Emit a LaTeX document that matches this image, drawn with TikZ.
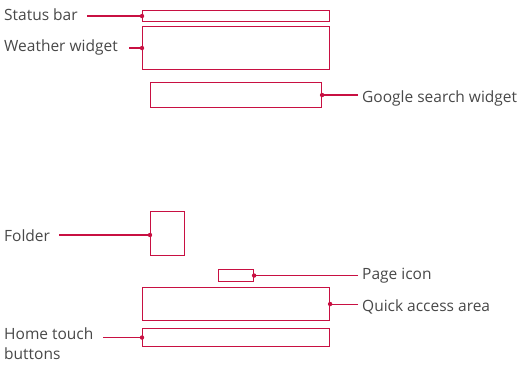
\documentclass[tikz,border=0pt]{standalone}
\usepackage{fontspec}
\setmainfont{Open Sans}
\usetikzlibrary{positioning}

\definecolor{lgred}{RGB}{200,16,66}
\definecolor{lggray}{RGB}{72,72,72}

\begin{document}
\begin{tikzpicture}[x=1pt,y=-1pt,
  panel/.style={draw=lgred,line width=1.1pt,inner sep=0pt,anchor=north west},
  lbl/.style={text=lggray,inner sep=0pt,anchor=west,
    font=\fontsize{15.5}{20}\selectfont},
  lead/.style={draw=lgred,line width=1.1pt},
  pin/.style={fill=lgred}]
  \useasboundingbox (0,0) rectangle (519,366);
  % highlighted areas of the home screen
  \node[panel,minimum width=187pt,minimum height=11pt] (status) at (142,10) {};
  \node[panel,minimum width=187pt,minimum height=43pt] (weather) at (142,26) {};
  \node[panel,minimum width=171pt,minimum height=25pt] (google) at (150,82) {};
  \node[panel,minimum width=34pt,minimum height=44pt] (folder) at (150,211) {};
  \node[panel,minimum width=35pt,minimum height=12pt] (page) at (218,269) {};
  \node[panel,minimum width=187pt,minimum height=33pt] (quick) at (142,287) {};
  \node[panel,minimum width=187pt,minimum height=18pt] (home) at (142,328) {};
  % labels
  \node[lbl] (statuslbl) at (4,15) {Status bar};
  \node[lbl] (weatherlbl) at (4,47) {Weather widget};
  \node[lbl] (googlelbl) at (362,98) {Google search widget};
  \node[lbl] (folderlbl) at (4,236) {Folder};
  \node[lbl] (pagelbl) at (362,276) {Page icon};
  \node[lbl] (quicklbl) at (362,307) {Quick access area};
  \node[lbl,anchor=north west,align=left] (homelbl) at (4,328) {Home touch\\buttons};
  % leader lines
  \coordinate (statusend) at ([xshift=-55pt]status.west);
  \coordinate (weatherend) at ([xshift=-13pt]weather.west);
  \coordinate (googleend) at ([xshift=36pt]google.east);
  \coordinate (folderend) at ([xshift=-91pt]folder.west |- 0,235);
  \coordinate (pageend) at ([xshift=104pt]page.east);
  \coordinate (quickend) at ([xshift=28pt]quick.east);
  \coordinate (homeend) at ([xshift=-39pt]home.west);
  \draw[lead] (statusend) -- (status.west);
  \draw[lead] (weatherend) -- (weather.west);
  \draw[lead] (googleend) -- (google.east);
  \draw[lead] (folderend) -- (folder.west |- folderend);
  \draw[lead] (pageend) -- (page.east);
  \draw[lead] (quickend) -- (quick.east);
  \draw[lead] (homeend) -- (home.west);
  \foreach \spot in {status.west,weather.west,google.east,page.east,quick.east,home.west}
    \fill[pin] (\spot) circle (2.2pt);
  \fill[pin] (folder.west |- folderend) circle (2.2pt);
\end{tikzpicture}
\end{document}
